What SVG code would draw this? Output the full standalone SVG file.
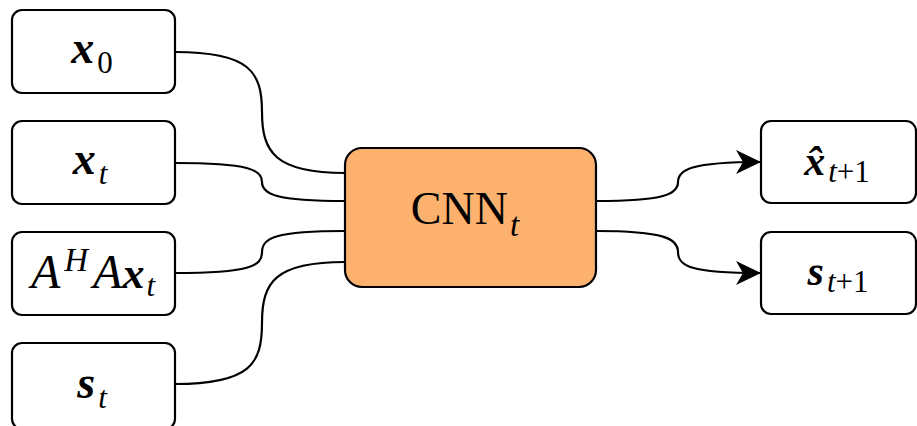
<svg xmlns="http://www.w3.org/2000/svg" width="917" height="426" viewBox="0 0 917 426">
<defs>
<style>
.box{fill:#ffffff;stroke:#000;stroke-width:2.2}
.cnn{fill:#fdb16f;stroke:#000;stroke-width:2.2}
.edge{fill:none;stroke:#000;stroke-width:2.2}
.m{font-family:"Liberation Serif","DejaVu Serif",serif;font-style:italic;fill:#000}
.b{font-weight:bold}
.r{font-style:normal}
</style>
<marker id="arr" viewBox="0 0 25 24" refX="24" refY="12" markerWidth="25" markerHeight="24" markerUnits="userSpaceOnUse" orient="auto">
<path d="M0,0 L25,12 L0,24 L7,12 Z" fill="#000"/>
</marker>
</defs>
<g id="connectors">
<path class="edge" d="M175,52 C250,52 262,72 262,112 C262,152 275,173 345,173"/>
<path class="edge" d="M175,163 C250,163 262,170 262,182 C262,194 275,201 345,201"/>
<path class="edge" d="M175,273 C250,273 262,266 262,252 C262,238 275,231 345,231"/>
<path class="edge" d="M175,384 C250,384 262,364 262,323 C262,282 275,262 345,262"/>
<path class="edge" marker-end="url(#arr)" d="M596,201 C665,201 678,194 678,182 C678,170 690,162 760,162"/>
<path class="edge" marker-end="url(#arr)" d="M596,231 C665,231 678,239 678,252 C678,266 690,273 760,273"/>
</g>
<g id="node-x0">
<rect class="box" x="12" y="10" width="163" height="83" rx="10"/>
<text class="m" x="92" y="63" font-size="46" text-anchor="middle"><tspan class="b">x</tspan><tspan class="r" font-size="31" dx="3" dy="10">0</tspan></text>
</g>
<g id="node-xt">
<rect class="box" x="12" y="121" width="163" height="83" rx="10"/>
<text class="m" x="90" y="174" font-size="46" text-anchor="middle"><tspan class="b">x</tspan><tspan font-size="31" dx="3" dy="10">t</tspan></text>
</g>
<g id="node-AHAxt">
<rect class="box" x="12" y="232" width="163" height="83" rx="10"/>
<text class="m" x="93" y="288" font-size="48" text-anchor="middle">A<tspan font-size="33" dx="4" dy="-17">H</tspan><tspan dx="5" dy="17">A</tspan><tspan class="b" font-size="44">x</tspan><tspan font-size="31" dx="2" dy="8">t</tspan></text>
</g>
<g id="node-st">
<rect class="box" x="12" y="343" width="163" height="86" rx="10"/>
<text class="m" x="92" y="398" font-size="46" text-anchor="middle"><tspan class="b">s</tspan><tspan font-size="31" dx="3" dy="10">t</tspan></text>
</g>
<g id="node-cnn">
<rect class="cnn" x="345" y="148" width="251" height="139" rx="17"/>
<text class="m r" x="465" y="224" font-size="46" text-anchor="middle">CNN<tspan class="m" font-size="33" dx="2" dy="12">t</tspan></text>
</g>
<g id="node-xhat">
<rect class="box" x="761" y="121" width="155" height="82" rx="10"/>
<text class="m" x="837" y="175" font-size="42" text-anchor="middle"><tspan class="b">x̂</tspan><tspan font-size="31" dx="3" dy="7">t</tspan><tspan class="r" font-size="31">+1</tspan></text>
</g>
<g id="node-st1">
<rect class="box" x="761" y="232" width="155" height="82" rx="10"/>
<text class="m" x="838" y="285" font-size="42" text-anchor="middle"><tspan class="b">s</tspan><tspan font-size="31" dx="3" dy="7">t</tspan><tspan class="r" font-size="31">+1</tspan></text>
</g>
</svg>
